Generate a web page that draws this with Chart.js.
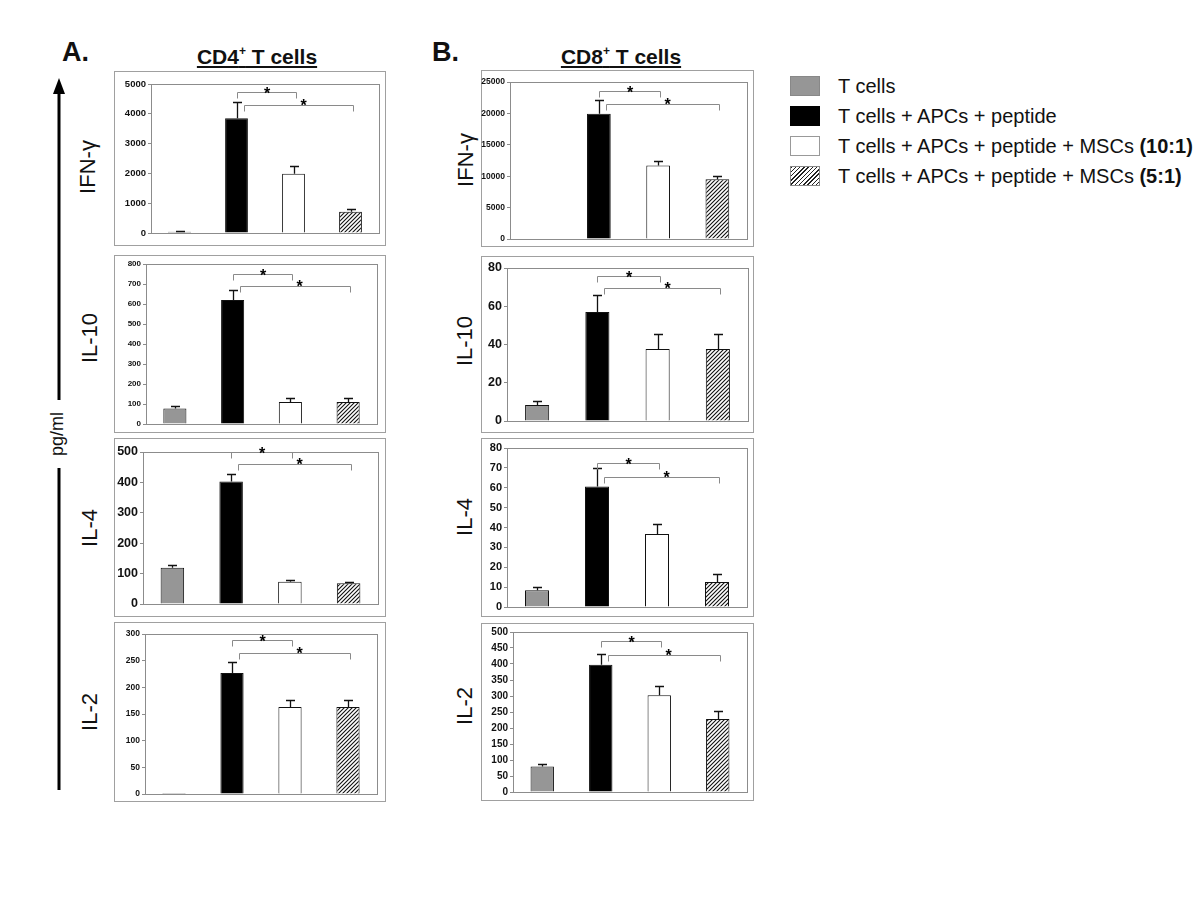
<!DOCTYPE html>
<html>
<head>
<meta charset="utf-8">
<script src="https://cdn.jsdelivr.net/npm/chart.js@4.4.1/dist/chart.umd.min.js"></script>
<style>
  html, body { margin: 0; padding: 0; background: #fff; }
  body { width: 1200px; height: 900px; position: relative; overflow: hidden;
         font-family: 'Liberation Sans', Arial, sans-serif; color: #111; }
  .abs { position: absolute; white-space: nowrap; }
  .panel-letter { font-size: 27px; font-weight: bold; }
  .title { font-size: 21px; font-weight: bold; text-decoration: underline; transform: translateX(-50%); }
  .title sup { font-size: 12px; vertical-align: 9px; line-height: 0; }
  .rot { transform: translate(-50%, -50%) rotate(-90deg); font-size: 22px; }
  .legend { left: 790px; top: 76px; }
  .legend .row { height: 30px; display: flex; align-items: flex-start; font-size: 20px; }
  .legend .sw { width: 30px; height: 20px; box-sizing: border-box; margin-right: 18px; flex: none; }
  .legend .txt { line-height: 20px; }
  canvas { position: absolute; }
</style>
</head>
<body>

<div class="abs panel-letter" style="left:62px; top:37px;">A.</div>
<div class="abs panel-letter" style="left:432px; top:37px;">B.</div>
<div class="abs title" style="left:257px; top:45px;">CD4<sup>+</sup> T cells</div>
<div class="abs title" style="left:621px; top:45px;">CD8<sup>+</sup> T cells</div>

<div class="abs rot" style="left:88px; top:167px;">IFN-γ</div>
<div class="abs rot" style="left:90px; top:338px;">IL-10</div>
<div class="abs rot" style="left:90px; top:528px;">IL-4</div>
<div class="abs rot" style="left:90px; top:712px;">IL-2</div>
<div class="abs rot" style="left:466px; top:160px;">IFN-γ</div>
<div class="abs rot" style="left:465px; top:341px;">IL-10</div>
<div class="abs rot" style="left:465px; top:517px;">IL-4</div>
<div class="abs rot" style="left:465px; top:706px;">IL-2</div>

<!-- pg/ml arrow -->
<svg class="abs" style="left:40px; top:70px;" width="40" height="730">
  <polygon points="19,8 13,24 25,24" fill="#000"/>
  <line x1="19" y1="20" x2="19" y2="330" stroke="#000" stroke-width="3"/>
  <line x1="19" y1="398" x2="19" y2="720" stroke="#000" stroke-width="3"/>
</svg>
<div class="abs rot" style="left:57px; top:434px; font-size:18px;">pg/ml</div>

<div class="abs legend" id="legend"></div>

<script>
// ── Data ──────────────────────────────────────────────
const groups = [
  'T cells',
  'T cells + APCs + peptide',
  'T cells + APCs + peptide + MSCs (10:1)',
  'T cells + APCs + peptide + MSCs (5:1)',
];

// CD4+ T cells (mean, error, bracket levels)
const cd4IfnMean   = [40, 3850, 1990, 710];
const cd4IfnErr    = [30, 550, 250, 110];
const cd4IfnSig    = [4730, 4300];
const cd4Il10Mean  = [77, 620, 110, 110];
const cd4Il10Err   = [11, 49, 21, 21];
const cd4Il10Sig   = [752, 690];
const cd4Il4Mean   = [119, 403, 73, 68];
const cd4Il4Err    = [10, 24, 5, 4];
const cd4Il4Sig    = [500, 460];
const cd4Il2Mean   = [2, 227, 163, 163];
const cd4Il2Err    = [0, 20, 14, 14];
const cd4Il2Sig    = [289, 265];

// CD8+ T cells
const cd8IfnMean   = [60, 19950, 11700, 9500];
const cd8IfnErr    = [0, 2230, 690, 480];
const cd8IfnSig    = [23510, 21490];
const cd8Il10Mean  = [8.4, 57, 37.7, 37.7];
const cd8Il10Err   = [2.3, 9, 7.7, 7.7];
const cd8Il10Sig   = [75.6, 69.3];
const cd8Il4Mean   = [8.4, 60.6, 36.7, 12.6];
const cd8Il4Err    = [1.7, 9.3, 5.1, 4.2];
const cd8Il4Sig    = [72.4, 65.3];
const cd8Il2Mean   = [80, 398, 302, 228];
const cd8Il2Err    = [7, 33, 29, 24];
const cd8Il2Sig    = [473, 428];

// Axis ranges
const yMax  = { a1: 5000, a2: 800, a3: 500, a4: 300, b1: 25000, b2: 80, b3: 80, b4: 500 };
const yStep = { a1: 1000, a2: 100, a3: 100, a4: 50,  b1: 5000,  b2: 20, b3: 10, b4: 50 };

// ── Styles ────────────────────────────────────────────
const TICK_FONT = "'Liberation Sans', Arial, sans-serif";
const FRAME = '#8c8c8c';

function hatchPattern() {
  const c = document.createElement('canvas');
  c.width = c.height = 4;
  const g = c.getContext('2d');
  g.fillStyle = '#fff';
  g.fillRect(0, 0, 4, 4);
  g.strokeStyle = '#111';
  g.lineWidth = 1.1;
  g.beginPath();
  g.moveTo(0, 4); g.lineTo(4, 0);
  g.moveTo(-1, 1); g.lineTo(1, -1);
  g.moveTo(3, 5); g.lineTo(5, 3);
  g.stroke();
  return g.createPattern(c, 'repeat');
}
const HATCH = hatchPattern();
const BAR_COLORS = ['#969696', '#000000', '#ffffff', HATCH];

// box = outer panel rectangle, plot = chart area (page pixels)
const panels = [
  { id: 'a1', mean: cd4IfnMean,  err: cd4IfnErr,  sig: cd4IfnSig,  font: 9.5,  box: [114, 71, 386, 246],  plot: [151, 84, 379, 233] },
  { id: 'a2', mean: cd4Il10Mean, err: cd4Il10Err, sig: cd4Il10Sig, font: 8,    box: [114, 255, 386, 433], plot: [146, 264, 377, 424] },
  { id: 'a3', mean: cd4Il4Mean,  err: cd4Il4Err,  sig: cd4Il4Sig,  font: 12.5, box: [114, 438, 386, 617], plot: [143, 452, 378, 604] },
  { id: 'a4', mean: cd4Il2Mean,  err: cd4Il2Err,  sig: cd4Il2Sig,  font: 8.5,  box: [114, 622, 386, 802], plot: [145, 634, 377, 794] },
  { id: 'b1', mean: cd8IfnMean,  err: cd8IfnErr,  sig: cd8IfnSig,  font: 8.5,  box: [481, 70, 754, 247],  plot: [510, 82, 747, 239] },
  { id: 'b2', mean: cd8Il10Mean, err: cd8Il10Err, sig: cd8Il10Sig, font: 12.5, box: [481, 256, 754, 433], plot: [507, 268, 748, 421] },
  { id: 'b3', mean: cd8Il4Mean,  err: cd8Il4Err,  sig: cd8Il4Sig,  font: 11,   box: [481, 438, 754, 617], plot: [507, 448, 747, 607] },
  { id: 'b4', mean: cd8Il2Mean,  err: cd8Il2Err,  sig: cd8Il2Sig,  font: 10,   box: [481, 623, 754, 801], plot: [513, 632, 747, 792] },
];

// ── Per-panel overlay: box, frame, error bars, significance brackets ──
function overlayPlugin(p) {
  return {
    id: 'overlay_' + p.id,
    beforeDraw(chart) {
      const { ctx, width, height } = chart;
      ctx.save();
      ctx.strokeStyle = '#a0a0a0';
      ctx.lineWidth = 1;
      ctx.strokeRect(0.5, 0.5, width - 1, height - 1);
      ctx.restore();
    },
    beforeDatasetsDraw(chart) {
      const { ctx, chartArea: a } = chart;
      ctx.save();
      ctx.strokeStyle = FRAME;
      ctx.lineWidth = 1;
      ctx.strokeRect(Math.round(a.left) + 0.5, Math.round(a.top) + 0.5,
                     Math.round(a.right - a.left), Math.round(a.bottom - a.top));
      ctx.restore();
    },
    afterDatasetsDraw(chart) {
      const { ctx } = chart;
      const y = chart.scales.y;
      const bars = chart.getDatasetMeta(0).data;
      ctx.save();

      // error bars (upper only)
      ctx.strokeStyle = '#111';
      ctx.lineWidth = 1.3;
      p.err.forEach((e, i) => {
        if (!e) return;
        const b = bars[i];
        const top = Math.round(y.getPixelForValue(p.mean[i] + e)) + 0.5;
        const x = Math.round(b.x) + 0.5;
        ctx.beginPath();
        ctx.moveTo(x, b.y);
        ctx.lineTo(x, top);
        ctx.moveTo(x - 4.5, top);
        ctx.lineTo(x + 4.5, top);
        ctx.stroke();
      });

      // significance brackets: bar 2 -> bar 3, bar 2 -> bar 4
      const spans = [[1, 2, 0, 2], [1, 3, 7, 2]];
      ctx.strokeStyle = '#8a8a8a';
      ctx.lineWidth = 1;
      const ends = [];
      spans.forEach(([i, j, off1, off2], k) => {
        const x1 = Math.round(bars[i].x + off1) + 0.5;
        const x2 = Math.round(bars[j].x + off2) + 0.5;
        const yy = Math.round(y.getPixelForValue(p.sig[k])) + 0.5;
        ctx.beginPath();
        ctx.moveTo(x1, yy + 6);
        ctx.lineTo(x1, yy);
        ctx.lineTo(x2, yy);
        ctx.lineTo(x2, yy + 6);
        ctx.stroke();
        ends.push({ x1, x2, yy });
      });

      ctx.fillStyle = '#000';
      ctx.font = "bold 16px 'Liberation Sans', Arial, sans-serif";
      ctx.textAlign = 'center';
      ctx.textBaseline = 'alphabetic';
      ctx.fillText('*', (ends[0].x1 + ends[0].x2) / 2, ends[0].yy + 6);
      ctx.fillText('*', ends[0].x2 + 7, ends[1].yy + 5);
      ctx.restore();
    },
  };
}

panels.forEach(p => {
  const [bl, bt, br, bb] = p.box;
  const [pl, pt, pr, pb] = p.plot;
  const canvas = document.createElement('canvas');
  canvas.width = br - bl;
  canvas.height = bb - bt;
  canvas.style.left = bl + 'px';
  canvas.style.top = bt + 'px';
  document.body.appendChild(canvas);

  new Chart(canvas.getContext('2d'), {
    type: 'bar',
    data: {
      labels: groups,
      datasets: [{
        data: p.mean,
        backgroundColor: BAR_COLORS,
        borderColor: '#111',
        borderWidth: 1,
        barPercentage: 0.4,
        categoryPercentage: 1,
      }],
    },
    options: {
      responsive: false,
      animation: false,
      layout: { padding: { left: 0, top: pt - bt, right: br - pr, bottom: bb - pb } },
      plugins: { legend: { display: false }, tooltip: { enabled: false } },
      scales: {
        x: {
          grid: { display: false },
          ticks: { display: false },
          border: { display: true, color: FRAME, width: 1 },
          afterFit: s => { s.height = 0; },
        },
        y: {
          min: 0,
          max: yMax[p.id],
          ticks: {
            stepSize: yStep[p.id],
            color: '#111',
            padding: 2,
            font: { family: TICK_FONT, size: p.font, weight: 'bold' },
            callback: v => String(v),
          },
          grid: { drawOnChartArea: false, tickLength: 3, color: FRAME },
          border: { color: FRAME, width: 1 },
          afterFit: s => { s.width = pl - bl; },
        },
      },
    },
    plugins: [overlayPlugin(p)],
  });
});

// ── Legend ────────────────────────────────────────────
const legendLabels = [
  'T cells',
  'T cells + APCs + peptide',
  'T cells + APCs + peptide + MSCs <b>(10:1)</b>',
  'T cells + APCs + peptide + MSCs <b>(5:1)</b>',
];
const swatchCss = [
  'background:#969696; border:1px solid #888;',
  'background:#000; border:1px solid #000;',
  'background:#fff; border:1px solid #999;',
  'background:repeating-linear-gradient(135deg, #222 0 1px, #fff 1px 3px); border:1px solid #888;',
];
document.getElementById('legend').innerHTML = legendLabels.map((t, i) =>
  `<div class="row"><span class="sw" style="${swatchCss[i]}"></span><span class="txt">${t}</span></div>`
).join('');
</script>
</body>
</html>
